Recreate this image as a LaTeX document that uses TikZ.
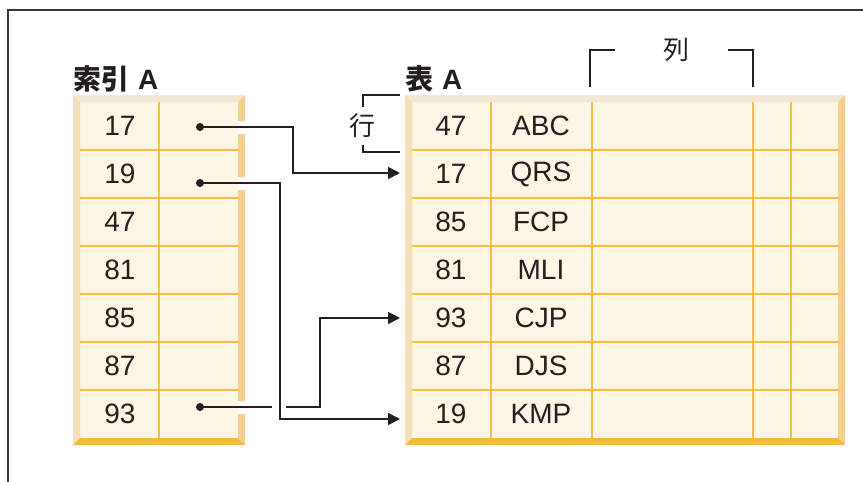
\documentclass[tikz,border=0pt]{standalone}
\usepackage{fontspec}
\setmainfont{Liberation Sans}
\newfontfamily\cjk{Noto Sans CJK JP}
\usetikzlibrary{arrows.meta}
\definecolor{cellfill}{HTML}{FDF6E3}
\definecolor{gridc}{HTML}{F6BC45}
\definecolor{bevtop}{HTML}{F3E8D5}
\definecolor{bevleft}{HTML}{F5DEB8}
\definecolor{bevright}{HTML}{F5CF8E}
\definecolor{bevbot}{HTML}{F5B940}
\definecolor{ink}{HTML}{231F20}
\newcommand{\beveltable}[4]{%
  \fill[cellfill] (#1+7,#2+7) rectangle (#3-7,#4-7);
  \fill[bevtop] (#1,#2) -- (#3,#2) -- (#3-7,#2+7) -- (#1+7,#2+7) -- cycle;
  \fill[bevleft] (#1,#2) -- (#1+7,#2+7) -- (#1+7,#4-7) -- (#1,#4) -- cycle;
  \fill[bevright] (#3,#2) -- (#3,#4) -- (#3-7,#4-7) -- (#3-7,#2+7) -- cycle;
  \fill[bevbot] (#1,#4) -- (#1+7,#4-7) -- (#3-7,#4-7) -- (#3,#4) -- cycle;
}
\begin{document}
\begin{tikzpicture}[x=1pt,y=-1pt,
  celltext/.style={font=\fontsize{28}{30}\selectfont, text=ink, inner sep=0pt},
  title/.style={font=\fontsize{28}{30}\selectfont\bfseries, text=ink, inner sep=0pt, anchor=base west},
  label/.style={font=\fontsize{26}{28}\selectfont\cjk, text=ink, inner sep=0pt},
  gridline/.style={draw=gridc, line width=1.6pt},
  conn/.style={draw=ink, line width=1.8pt},
  arr/.style={conn, -{Triangle[length=12pt,width=12pt]}},
  bracket/.style={draw=ink, line width=1.8pt},
  dot/.style={circle, fill=ink, inner sep=0pt, minimum size=8pt},
  frame/.style={draw=ink!90, line width=2pt}]
\useasboundingbox (0,0) rectangle (863,482);

% outer frame
\draw[frame] (8,482) -- (8,10) -- (863,10);

% index table
\beveltable{73}{95}{245}{445}
\foreach \k in {1,...,6} \draw[gridline] (80,102+48*\k) -- (238,102+48*\k);
\draw[gridline] (159,102) -- (159,438);

% table A
\beveltable{405}{95}{845}{445}
\foreach \k in {1,...,6} \draw[gridline] (412,102+48*\k) -- (838,102+48*\k);
\foreach \x in {491,592,753,791} \draw[gridline] (\x,102) -- (\x,438);

% titles
\node[title] (tidx) at (73,89) {\cjk 索引\hspace{9pt}\normalfont\bfseries A};
\node[title] (ttab) at (405,89) {\cjk 表\hspace{9pt}\normalfont\bfseries A};

% index contents
\node[celltext] (i1) at (120,126) {17};
\node[celltext] (i2) at (120,174) {19};
\node[celltext] (i3) at (120,222) {47};
\node[celltext] (i4) at (120,270) {81};
\node[celltext] (i5) at (120,318) {85};
\node[celltext] (i6) at (120,366) {87};
\node[celltext] (i7) at (120,414) {93};

% table contents
\node[celltext] (n1) at (451,126) {47};
\node[celltext] (n2) at (451,174) {17};
\node[celltext] (n3) at (451,222) {85};
\node[celltext] (n4) at (451,270) {81};
\node[celltext] (n5) at (451,318) {93};
\node[celltext] (n6) at (451,366) {87};
\node[celltext] (n7) at (451,414) {19};
\node[celltext] (s1) at (541,126) {ABC};
\node[celltext] (s2) at (541,174) {QRS};
\node[celltext] (s3) at (541,222) {FCP};
\node[celltext] (s4) at (541,270) {MLI};
\node[celltext] (s5) at (541,318) {CJP};
\node[celltext] (s6) at (541,366) {DJS};
\node[celltext] (s7) at (541,414) {KMP};

% labels with brackets
\node[label] (col) at (676,50) {列};
\draw[bracket] (590,87) -- (590,50) -- (615,50);
\draw[bracket] (728,50) -- (753,50) -- (753,87);
\node[label] (row) at (362,126) {行};
\draw[bracket] (400,95) -- (363,95) -- (363,107);
\draw[bracket] (363,145) -- (363,152) -- (400,152);

% gaps in the index table's right edge
\fill[white] (238,121) rectangle (246,134);
\fill[white] (238,177) rectangle (246,190);
\fill[white] (238,401) rectangle (246,414);

% pointers
\node[dot] (p1) at (200,127) {};
\node[dot] (p2) at (200,183) {};
\node[dot] (p3) at (200,407) {};
\coordinate (q1) at (400,173);
\coordinate (q2) at (400,419);
\coordinate (q3) at (400,318);
\draw[arr] (p1.center) -- (293,127) |- (q1);
\draw[arr] (p2.center) -- (280,183) |- (q2);
\draw[conn] (p3.center) -- (272,407);
\draw[arr] (286,407) -- (320,407) |- (q3);
\end{tikzpicture}
\end{document}
